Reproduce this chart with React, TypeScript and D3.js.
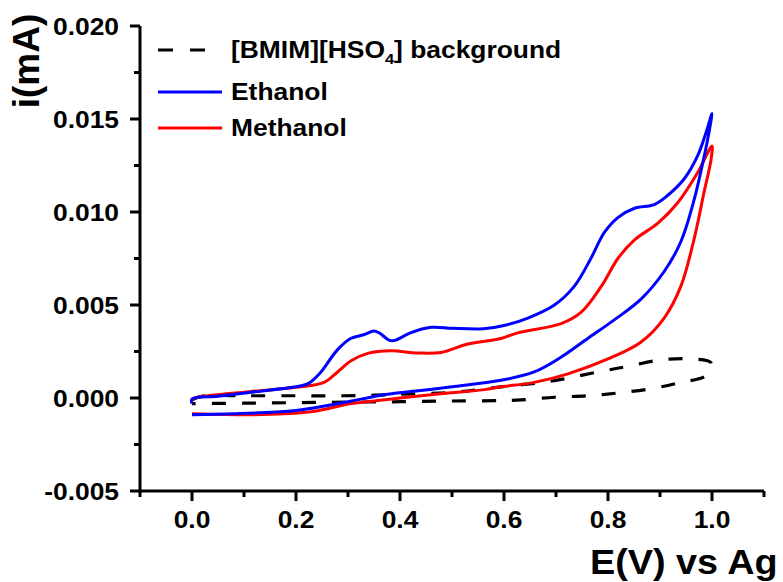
import React from "react";
import * as d3 from "d3";

// ---- Data (E in V, i in mA) ----
const ethanolE = [0.0, 0.0, 0.05, 0.11, 0.21, 0.225, 0.245, 0.28, 0.305, 0.33, 0.35, 0.36, 0.38, 0.39, 0.42, 0.46, 0.5, 0.56, 0.6, 0.646, 0.697, 0.735, 0.767, 0.793, 0.819, 0.851, 0.889, 0.915, 0.947, 0.972, 0.99, 1.0,
  0.993, 0.985, 0.966, 0.94, 0.908, 0.863, 0.812, 0.761, 0.71, 0.658, 0.594, 0.5, 0.44, 0.376, 0.3, 0.242, 0.19, 0.08, 0.0];
const ethanolI = [-0.0003, -0.00005, 0.0001, 0.0003, 0.00066, 0.0008, 0.0013, 0.0026, 0.0032, 0.0034, 0.0036, 0.0035, 0.0031, 0.0031, 0.0035, 0.0038, 0.00375, 0.00372, 0.0039, 0.0043, 0.005, 0.006, 0.0075, 0.0089, 0.0097, 0.0102, 0.0104, 0.0109, 0.0118, 0.013, 0.0144, 0.0153,
  0.0141, 0.013, 0.0107, 0.0084, 0.0068, 0.0053, 0.0042, 0.0032, 0.0022, 0.0014, 0.00095, 0.0006, 0.0004, 0.0002, -0.0002, -0.0005, -0.0007, -0.00085, -0.0009];

const methanolE = [0.0, 0.005, 0.11, 0.21, 0.254, 0.28, 0.306, 0.338, 0.383, 0.434, 0.479, 0.53, 0.594, 0.626, 0.71, 0.748, 0.787, 0.819, 0.851, 0.896, 0.934, 0.972, 1.0,
  0.998, 0.985, 0.966, 0.94, 0.908, 0.863, 0.8, 0.723, 0.658, 0.594, 0.562, 0.466, 0.4, 0.37, 0.306, 0.242, 0.177, 0.113, 0.0];
const methanolI = [-0.0001, 0.0, 0.00034, 0.0006, 0.00084, 0.0014, 0.002, 0.0024, 0.00254, 0.00242, 0.00245, 0.0029, 0.0032, 0.0035, 0.004, 0.0046, 0.006, 0.0075, 0.0085, 0.0094, 0.0105, 0.0121, 0.01355,
  0.0128, 0.0111, 0.0086, 0.006, 0.0043, 0.003, 0.0021, 0.0013, 0.00084, 0.0006, 0.00045, 0.0002, 0.0, -0.0001, -0.0003, -0.00068, -0.00085, -0.0009, -0.00085];

const bgE = [0.0, 0.02, 0.1, 0.2, 0.29, 0.35, 0.4, 0.5, 0.594, 0.69, 0.78, 0.838, 0.902, 0.963, 0.998,
  0.988, 0.94, 0.883, 0.819, 0.761, 0.697, 0.633, 0.594, 0.5, 0.4, 0.3, 0.2, 0.1, 0.0];
const bgI = [-0.0001, 0.0001, 0.00012, 0.00012, 0.00012, 0.00015, 0.0002, 0.0003, 0.0006, 0.0009, 0.0014, 0.0017, 0.00205, 0.0021, 0.0019,
  0.0012, 0.00084, 0.0005, 0.00027, 0.00012, 0.00004, -0.0001, -0.00014, -0.00016, -0.0002, -0.00022, -0.00025, -0.00028, -0.0003];

const xMajorTicks = [0.0, 0.2, 0.4, 0.6, 0.8, 1.0];
const xMinorTicks = [-0.1, 0.1, 0.3, 0.5, 0.7, 0.9, 1.1];
const yMajorTicks = [-0.005, 0.0, 0.005, 0.01, 0.015, 0.02];
const yMinorTicks = [-0.0025, 0.0025, 0.0075, 0.0125, 0.0175];

const FONT = "'Liberation Sans', Arial, sans-serif";
const SX = 1.1; // horizontal stretch of the reference lettering

function T(props: { x: number; y: number; size: number; anchor?: string; sx?: number; children: React.ReactNode }) {
  const { x, y, size, anchor = "start", sx = SX, children } = props;
  return (
    <text
      transform={`translate(${x},${y}) scale(${sx},1)`}
      textAnchor={anchor}
      fontFamily={FONT}
      fontWeight="bold"
      fontSize={size}
      fill="#000"
    >
      {children}
    </text>
  );
}

export default function App() {
  const W = 783, H = 582;
  const x = d3.scaleLinear().domain([-0.1, 1.1]).range([140, 764]);
  const y = d3.scaleLinear().domain([-0.005, 0.02]).range([491, 26]);

  const line = d3
    .line<[number, number]>()
    .x((d) => x(d[0]))
    .y((d) => y(d[1]))
    .curve(d3.curveCatmullRom.alpha(0.5));

  const zip = (a: number[], b: number[]) => a.map((v, k) => [v, b[k]] as [number, number]);

  const x0 = x.range()[0];
  const y0 = y.range()[0];

  return (
    <div style={{ position: "absolute", left: 0, top: 0 }}>
      <svg width={W} height={H} style={{ display: "block", background: "#fff" }}>
        {/* curves */}
        <path d={line(zip(bgE, bgI)) || ""} fill="none" stroke="#000" strokeWidth={3.2} strokeDasharray="14,16" />
        <path d={line(zip(methanolE, methanolI)) || ""} fill="none" stroke="#ff0000" strokeWidth={3} strokeLinejoin="round" />
        <path d={line(zip(ethanolE, ethanolI)) || ""} fill="none" stroke="#0000ff" strokeWidth={3} strokeLinejoin="round" />

        {/* axes */}
        <line x1={x0} x2={x0} y1={y.range()[1]} y2={y0 + 1.5} stroke="#000" strokeWidth={3} />
        <line x1={x0 - 1.5} x2={x.range()[1]} y1={y0} y2={y0} stroke="#000" strokeWidth={3} />

        {xMajorTicks.map((t) => (
          <g key={"xM" + t}>
            <line x1={x(t)} x2={x(t)} y1={y0} y2={y0 + 10} stroke="#000" strokeWidth={3} />
            <T x={x(t)} y={528} size={24} anchor="middle">
              {t.toFixed(1)}
            </T>
          </g>
        ))}
        {xMinorTicks.map((t) => (
          <line key={"xm" + t} x1={x(t)} x2={x(t)} y1={y0} y2={y0 + 6} stroke="#000" strokeWidth={3} />
        ))}
        {yMajorTicks.map((t) => (
          <g key={"yM" + t}>
            <line x1={x0 - 10} x2={x0} y1={y(t)} y2={y(t)} stroke="#000" strokeWidth={3} />
            <T x={119} y={y(t) + 8.5} size={24} anchor="end">
              {t.toFixed(3)}
            </T>
          </g>
        ))}
        {yMinorTicks.map((t) => (
          <line key={"ym" + t} x1={x0 - 6} x2={x0} y1={y(t)} y2={y(t)} stroke="#000" strokeWidth={3} />
        ))}

        {/* axis titles */}
        <text transform="translate(39,61) rotate(-90)" textAnchor="middle" fontFamily={FONT} fontWeight="bold" fontSize={37}>
          i(mA)
        </text>
        <T x={590} y={574} size={35} sx={1.08}>
          E(V) vs Ag
        </T>

        {/* legend */}
        <line x1={158} x2={208} y1={50} y2={50} stroke="#000" strokeWidth={3.2} strokeDasharray="15,17" />
        <T x={231} y={58} size={24}>
          [BMIM][HSO
          <tspan fontSize={15} dy={6}>4</tspan>
          <tspan dy={-6}>] background</tspan>
        </T>
        <line x1={158} x2={222} y1={92} y2={92} stroke="#0000ff" strokeWidth={3} />
        <T x={231} y={100} size={24}>
          Ethanol
        </T>
        <line x1={158} x2={222} y1={128} y2={128} stroke="#ff0000" strokeWidth={3} />
        <T x={231} y={136} size={24}>
          Methanol
        </T>
      </svg>
    </div>
  );
}
